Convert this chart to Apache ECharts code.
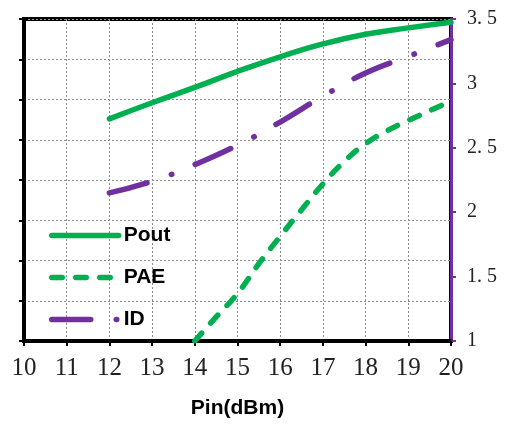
<!DOCTYPE html>
<html>
<head>
  <meta charset="UTF-8">
  <title>Pout / PAE / ID vs Pin</title>
  <script src="https://cdn.jsdelivr.net/npm/echarts@6/dist/echarts.min.js"></script>
</head>
<body style="margin: 0; background: #fff;">
  <div id="chart" style="width: 508px; height: 424px;"></div>
  <script type="text/javascript">
    // values
    var pinPout = [12, 13, 14, 15, 16, 17, 18, 19, 20];
    var poutVals = [27.6, 29.6, 31.5, 33.5, 35.3, 36.9, 38.1, 38.9, 39.6];
    var pinPae = [14, 14.5, 15, 15.5, 16, 16.5, 17, 17.5, 18, 18.5, 19, 19.5, 20];
    var paeVals = [0, 3.0, 5.9, 9.6, 13.0, 16.3, 19.5, 22.3, 24.5, 26.1, 27.4, 28.6, 29.8];
    var pinId = [12, 13, 14, 15, 16, 17, 18, 19, 20];
    var idVals = [2.15, 2.24, 2.37, 2.52, 2.70, 2.90, 3.08, 3.21, 3.34];

    var green = '#00b050', purple = '#7030a0';
    var serif = "'Liberation Serif', 'DejaVu Serif', serif";
    var sans = "'Liberation Sans', Arial, sans-serif";

    function pairs(xs, ys) {
      return xs.map(function (x, i) { return [x, ys[i]]; });
    }

    var gridLine = { show: true, lineStyle: { color: '#8c8c8c', width: 1, type: [2, 2] } };

    var chart = echarts.init(document.getElementById('chart'));
    chart.setOption({
      animation: false,
      grid: {
        left: 24, right: 57, top: 19, bottom: 82,
        show: true, borderColor: '#000', borderWidth: 4
      },
      legend: {
        orient: 'vertical',
        left: 49, top: 225,
        padding: 0,
        itemWidth: 67, itemHeight: 20, itemGap: 21,
        textStyle: { fontFamily: sans, fontWeight: 'bold', fontSize: 21, color: '#000', lineHeight: 20 },
        lineStyle: { width: 5.5 },
        itemStyle: { color: 'transparent', borderWidth: 0 },
        data: ['Pout', 'PAE', 'ID']
      },
      xAxis: {
        type: 'value', min: 10, max: 20, interval: 1,
        name: 'Pin(dBm)', nameLocation: 'middle', nameGap: 57,
        nameTextStyle: { fontFamily: sans, fontWeight: 'bold', fontSize: 21, color: '#000' },
        axisLine: { lineStyle: { color: '#000', width: 4 } },
        axisTick: { show: true, length: 5, lineStyle: { color: '#000', width: 2 } },
        axisLabel: { margin: 15, fontFamily: serif, fontSize: 25, color: '#222' },
        splitLine: gridLine
      },
      yAxis: [{
        type: 'value', min: 0, max: 40, interval: 5, position: 'left',
        axisLine: { show: true, lineStyle: { color: '#000', width: 4 } },
        axisTick: { show: true, length: 5, lineStyle: { color: '#000', width: 2 } },
        axisLabel: { show: false },
        splitLine: gridLine
      }, {
        type: 'value', min: 1, max: 3.5, interval: 0.5, position: 'right',
        axisLine: { show: true, lineStyle: { color: purple, width: 3 } },
        axisTick: { show: true, length: 5, lineStyle: { color: purple, width: 2 } },
        axisLabel: {
          margin: 16, fontFamily: serif, fontSize: 20, color: '#222',
          formatter: function (v) { return String(v).replace('.', '. '); }
        },
        splitLine: { show: false }
      }],
      series: [{
        name: 'PAE', type: 'line', yAxisIndex: 0,
        data: pairs(pinPae, paeVals),
        smooth: 0.5, showSymbol: false, symbol: 'none',
        lineStyle: { color: green, width: 5.5, type: [10.5, 13.5], cap: 'round' },
        itemStyle: { color: green }
      }, {
        name: 'ID', type: 'line', yAxisIndex: 1,
        data: pairs(pinId, idVals),
        smooth: 0.5, showSymbol: false, symbol: 'none',
        lineStyle: { color: purple, width: 5.5, type: [39, 25.5, 0.5, 25.5], cap: 'round' },
        itemStyle: { color: purple }
      }, {
        name: 'Pout', type: 'line', yAxisIndex: 0,
        data: pairs(pinPout, poutVals),
        smooth: 0.5, showSymbol: false, symbol: 'none',
        lineStyle: { color: green, width: 5.5, cap: 'round' },
        itemStyle: { color: green }
      }]
    });
  </script>
</body>
</html>
